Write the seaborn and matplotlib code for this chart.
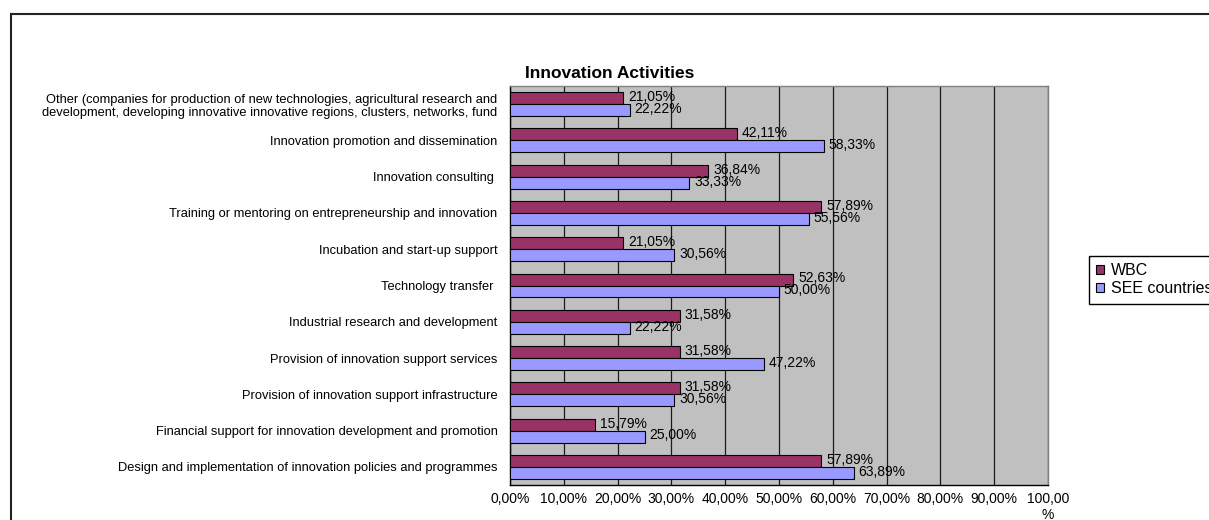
import matplotlib
matplotlib.use("Agg")
import matplotlib.pyplot as plt
from matplotlib.patches import Patch, Rectangle
from matplotlib.ticker import FixedLocator
import seaborn as sns
import pandas as pd

categories = [
    "Other (companies for production of new technologies, agricultural research and\n"
    "development, developing innovative innovative regions, clusters, networks, fund",
    "Innovation promotion and dissemination",
    "Innovation consulting ",
    "Training or mentoring on entrepreneurship and innovation",
    "Incubation and start-up support",
    "Technology transfer ",
    "Industrial research and development",
    "Provision of innovation support services",
    "Provision of innovation support infrastructure",
    "Financial support for innovation development and promotion",
    "Design and implementation of innovation policies and programmes",
]
wbc = [21.05, 42.11, 36.84, 57.89, 21.05, 52.63, 31.58, 31.58, 31.58, 15.79, 57.89]
see = [22.22, 58.33, 33.33, 55.56, 30.56, 50.00, 22.22, 47.22, 30.56, 25.00, 63.89]
series = ["WBC", "SEE countries"]
x_ticks = [0, 10, 20, 30, 40, 50, 60, 70, 80, 90, 100]
x_tick_labels = ["0,00%", "10,00%", "20,00%", "30,00%", "40,00%", "50,00%",
                 "60,00%", "70,00%", "80,00%", "90,00%", "100,00\n%"]

colors = {"WBC": "#993366", "SEE countries": "#9999FF"}

df = pd.DataFrame({
    "Activity": categories * 2,
    "Series": [series[0]] * len(categories) + [series[1]] * len(categories),
    "Value": wbc + see,
})

sns.set_style("white")
plt.rcParams["font.family"] = ["Liberation Sans", "DejaVu Sans"]
plt.rcParams["text.color"] = "black"
plt.rcParams["xtick.color"] = "black"
plt.rcParams["ytick.color"] = "black"
plt.rcParams["xtick.labelcolor"] = "black"
plt.rcParams["ytick.labelcolor"] = "black"

W, H = 1209, 520
fig = plt.figure(figsize=(W / 100, H / 100), dpi=100)
ax = fig.add_axes([510 / W, 1 - 485 / H, (1048 - 510) / W, (485 - 86) / H])

sns.barplot(data=df, y="Activity", x="Value", hue="Series", order=categories,
            hue_order=series, palette=colors, saturation=1, orient="h", width=0.66,
            edgecolor="black", linewidth=0.8, ax=ax, legend=False, zorder=3)

ax.set_facecolor("#C0C0C0")
ax.set_xlim(0, 100)
ax.set_ylim(len(categories) - 0.5, -0.5)
ax.set_xlabel("")
ax.set_ylabel("")

# vertical gridlines
ax.set_xticks(x_ticks)
ax.set_xticklabels(x_tick_labels, fontsize=10, linespacing=1.15)
ax.xaxis.grid(True, color="#1a1a1a", linewidth=0.9, zorder=0)
ax.set_axisbelow(True)
for lbl in ax.get_xticklabels():
    lbl.set_multialignment("center")

# category labels, tick marks between categories
ax.tick_params(axis="y", which="major", length=0, pad=9, labelsize=9.3)
ax.yaxis.set_minor_locator(FixedLocator([i - 0.5 for i in range(len(categories) + 1)]))
ax.tick_params(axis="y", which="minor", length=4, width=0.9, color="black", direction="out")
ax.tick_params(axis="x", which="major", length=4, width=0.9, color="black",
               direction="out", pad=1)
for lbl in ax.get_yticklabels():
    lbl.set_multialignment("right")

for side in ["top", "right"]:
    ax.spines[side].set_color("#808080")
    ax.spines[side].set_linewidth(1.0)
for side in ["left", "bottom"]:
    ax.spines[side].set_color("black")
    ax.spines[side].set_linewidth(1.0)
    ax.spines[side].set_visible(True)

# value labels
for container in ax.containers:
    for bar in container:
        v = bar.get_width()
        ax.text(v + 0.9, bar.get_y() + bar.get_height() / 2 - 0.03,
                f"{v:.2f}%".replace(".", ","), fontsize=10,
                va="center", ha="left", zorder=5)

fig.text(610 / W, 1 - 73 / H, "Innovation Activities", fontsize=12.5,
         fontweight="bold", ha="center", va="center")

handles = [Patch(facecolor=colors[s], edgecolor="black", linewidth=0.8) for s in series]
fig.legend(handles, series, loc="upper left",
           bbox_to_anchor=(1089 / W, 1 - 256 / H), fontsize=11.5,
           frameon=True, fancybox=False, edgecolor="black", framealpha=1,
           handlelength=0.5, handleheight=0.5, handletextpad=0.4,
           borderpad=0.45, labelspacing=0.2, borderaxespad=0)

# chart frame
fig.patches.append(Rectangle((11 / W, -0.5), 2.0, 0.5 + (1 - 14 / H),
                             transform=fig.transFigure, fill=False,
                             edgecolor="#222222", linewidth=1.5))

fig.savefig("out.png", dpi=100)
